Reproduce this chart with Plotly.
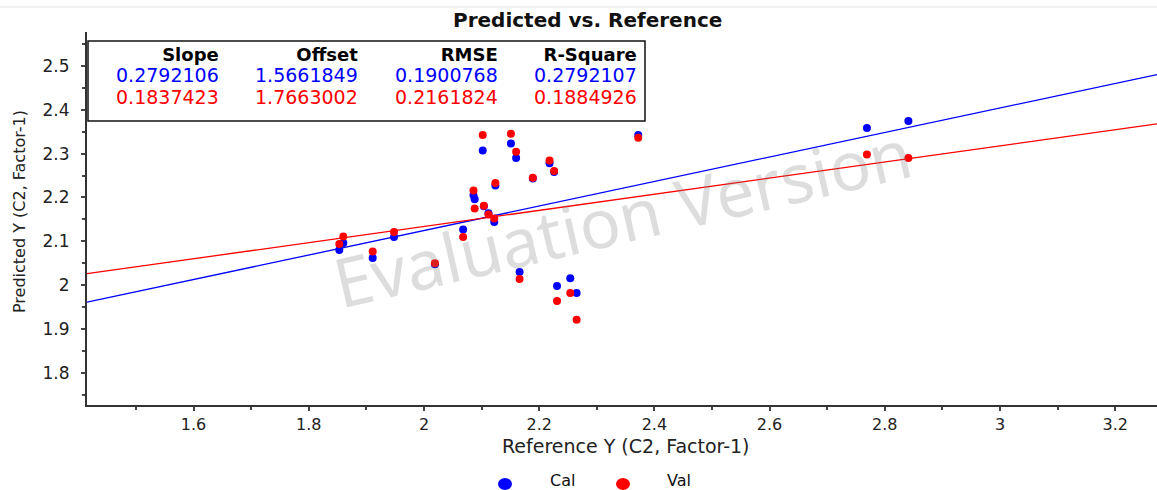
import plotly.graph_objects as go

# ---------------- data ----------------
ref_y = [1.853, 1.860, 1.911, 1.948, 2.019, 2.068, 2.086, 2.088, 2.102, 2.104,
         2.112, 2.122, 2.124, 2.151, 2.160, 2.166, 2.189, 2.218, 2.226, 2.231,
         2.254, 2.265, 2.372, 2.769, 2.841]
pred_cal = [2.080, 2.096, 2.062, 2.110, 2.048, 2.127, 2.205, 2.196, 2.307, 2.180,
            2.164, 2.144, 2.227, 2.323, 2.290, 2.030, 2.243, 2.278, 2.258, 1.998,
            2.016, 1.982, 2.342, 2.358, 2.374]
pred_val = [2.094, 2.111, 2.077, 2.121, 2.050, 2.110, 2.216, 2.175, 2.342, 2.181,
            2.161, 2.152, 2.233, 2.345, 2.304, 2.014, 2.245, 2.284, 2.260, 1.964,
            1.982, 1.921, 2.336, 2.298, 2.290]

stat_headers = ["Slope", "Offset", "RMSE", "R-Square"]
cal_stats = [0.2792106, 1.5661849, 0.1900768, 0.2792107]
val_stats = [0.1837423, 1.7663002, 0.2161824, 0.1884926]

series_names = ["Cal", "Val"]
series_colors = ["#0000ff", "#ff0000"]

x_range = [1.415, 3.2726]
y_range = [1.727, 2.577]
x_ticks = [1.6, 1.8, 2.0, 2.2, 2.4, 2.6, 2.8, 3.0, 3.2]
y_ticks = [1.8, 1.9, 2.0, 2.1, 2.2, 2.3, 2.4, 2.5]

title_text = "Predicted vs. Reference"
x_title = "Reference Y (C2, Factor-1)"
y_title = "Predicted Y (C2, Factor-1)"
watermark = "Evaluation Version"

# ---------------- figure ----------------
FONT = "DejaVu Sans"
fig = go.Figure()

# regression lines (from slope / offset)
for stats, col in zip([cal_stats, val_stats], series_colors):
    slope, offset = stats[0], stats[1]
    fig.add_trace(go.Scatter(
        x=x_range, y=[slope * x_range[0] + offset, slope * x_range[1] + offset],
        mode="lines", line=dict(color=col, width=1.3),
        showlegend=False, hoverinfo="skip"))

for name, col, vals in zip(series_names, series_colors, [pred_cal, pred_val]):
    fig.add_trace(go.Scatter(
        x=ref_y, y=vals, mode="markers", name=name, showlegend=False,
        marker=dict(color=col, size=8, line=dict(width=0))))

L, R, T, B = 87, 0, 32, 85
W, H = 1157, 490
pw, ph = W - L - R, H - T - B

def px_x(p):
    return (p - L) / pw

def px_y(p):
    return (H - B - p) / ph

annotations = []
# title
annotations.append(dict(text="<b>" + title_text + "</b>", x=px_x(587), y=px_y(20),
                        xref="paper", yref="paper", showarrow=False,
                        xanchor="center", yanchor="middle",
                        font=dict(family=FONT, size=20, color="#111")))
# axis titles
annotations.append(dict(text=x_title, x=px_x(626), y=px_y(446), xref="paper", yref="paper",
                        showarrow=False, xanchor="center", yanchor="middle",
                        font=dict(family=FONT, size=19, color="#222")))
annotations.append(dict(text=y_title, x=px_x(19), y=px_y(212), xref="paper", yref="paper",
                        showarrow=False, xanchor="center", yanchor="middle", textangle=-90,
                        font=dict(family=FONT, size=16, color="#222")))
# watermark
annotations.append(dict(text=watermark, x=px_x(622), y=px_y(216), xref="paper", yref="paper",
                        showarrow=False, textangle=-13, xanchor="center", yanchor="middle",
                        font=dict(family="Noto Sans", size=68, color="rgba(120,120,120,0.25)")))

# stats table: one right-aligned block per column
col_right = [221, 360, 500, 639]
for i, h in enumerate(stat_headers):
    txt = (f"<span style='font-size:18px'><b>{h}</b></span><br>"
           f"<span style='color:{series_colors[0]};font-size:19px'>{cal_stats[i]:.7f}</span><br>"
           f"<span style='color:{series_colors[1]};font-size:19px'>{val_stats[i]:.7f}</span>")
    annotations.append(dict(text=txt, x=px_x(col_right[i]), y=px_y(42), align="right",
                            xref="paper", yref="paper", xanchor="right", yanchor="top",
                            showarrow=False, font=dict(family=FONT, size=16.5, color="#000")))

shapes = [
    dict(type="rect", xref="paper", yref="paper", x0=px_x(88), x1=px_x(645),
         y0=px_y(121), y1=px_y(41), line=dict(color="#111", width=1.5), fillcolor="white",
         layer="below"),
    dict(type="line", xref="paper", yref="paper", x0=px_x(0), x1=1,
         y0=px_y(7), y1=px_y(7), line=dict(color="#e4e4e4", width=1)),
]

# legend drawn below the axis
legend_dot_x = [505, 623]
legend_text_x = [548, 665]
legend_y = 481
for name, col, dx, tx in zip(series_names, series_colors, legend_dot_x, legend_text_x):
    shapes.append(dict(type="circle", xref="paper", yref="paper",
                       x0=px_x(dx - 7), x1=px_x(dx + 7),
                       y0=px_y(legend_y + 9), y1=px_y(legend_y - 3),
                       fillcolor=col, line=dict(width=0)))
    annotations.append(dict(text=name, x=px_x(tx), y=px_y(legend_y), xref="paper", yref="paper",
                            xanchor="left", yanchor="middle", showarrow=False,
                            font=dict(family=FONT, size=16, color="#111")))

fig.update_layout(
    width=W, height=H,
    margin=dict(l=L, r=R, t=T, b=B),
    paper_bgcolor="white", plot_bgcolor="white",
    annotations=annotations, shapes=shapes,
    showlegend=False,
    xaxis=dict(range=x_range, tickvals=x_ticks, showgrid=False, zeroline=False,
               showline=True, linecolor="#333", linewidth=2, ticks="outside", ticklen=4,
               tickcolor="#444", tickwidth=2,
               minor=dict(dtick=0.1, tick0=1.5, ticks="outside", ticklen=3, tickcolor="#444", tickwidth=2),
               tickfont=dict(family=FONT, size=16, color="#222")),
    yaxis=dict(range=y_range, tickvals=y_ticks, showgrid=False, zeroline=False,
               showline=True, linecolor="#333", linewidth=2, ticks="outside", ticklen=4,
               tickcolor="#444", tickwidth=2,
               minor=dict(dtick=0.05, tick0=1.75, ticks="outside", ticklen=3, tickcolor="#444", tickwidth=2),
               tickfont=dict(family=FONT, size=17, color="#222"), ticklabelstandoff=8),
)

fig.write_html("out.html")
